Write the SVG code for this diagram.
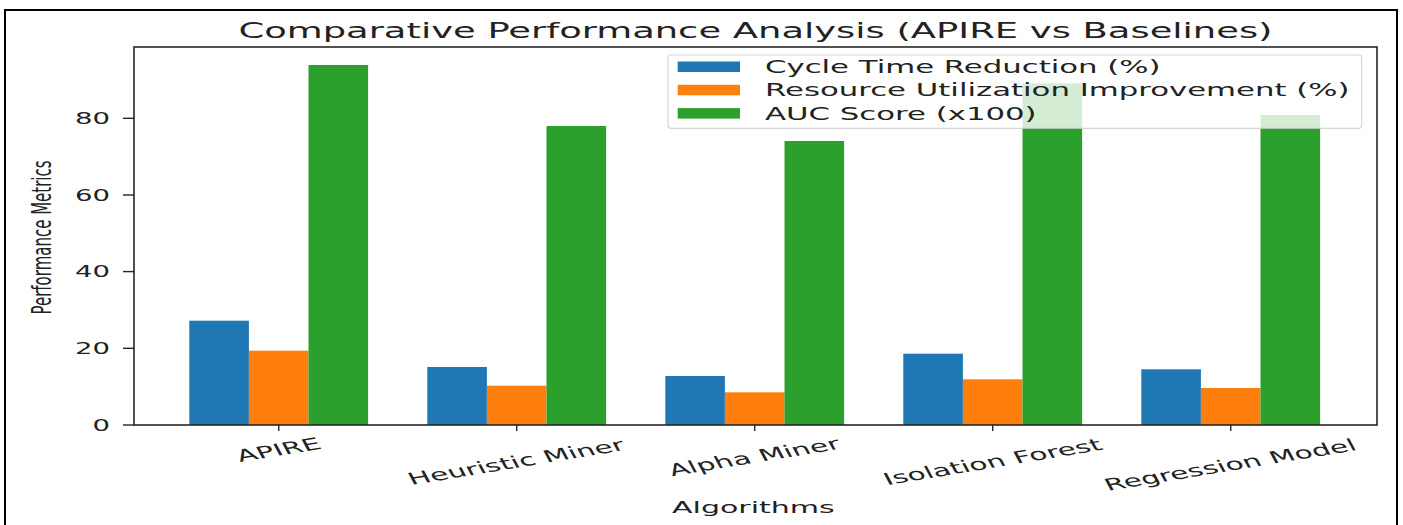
<svg xmlns="http://www.w3.org/2000/svg" width="1403" height="525" viewBox="0 0 1403 525">
  <style>
    text { font-family: "DejaVu Sans", "Liberation Sans", sans-serif; fill: #222; }
    .title { font-size: 20.5px; text-anchor: middle; }
    .ytick { font-size: 15.3px; text-anchor: end; }
    .xtick { font-size: 16.5px; text-anchor: middle; }
    .axlabel { font-size: 16.7px; text-anchor: middle; }
    .ylabel { font-size: 15px; text-anchor: middle; }
    .leg { font-size: 17.1px; }
    .spine { fill: none; stroke: #262626; stroke-width: 1.6; }
    .tick { stroke: #262626; stroke-width: 1.4; }
    .c1 { fill: #1f77b4; }
    .c2 { fill: #ff7f0e; }
    .c3 { fill: #2ca02c; }
  </style>

  <!-- page frame -->
  <rect x="5" y="10" width="1392" height="530" fill="#fff" stroke="#000" stroke-width="2"/>

  <!-- bars: cycle time, resource utilisation, AUC for each algorithm -->
  <g id="bars">
    <g id="apire">
      <rect class="c1" x="189.3" y="320.7" width="59.6" height="104.3"/>
      <rect class="c2" x="248.9" y="350.7" width="59.6" height="74.3"/>
      <rect class="c3" x="308.5" y="65" width="59.6" height="360"/>
    </g>
    <g id="heuristic-miner">
      <rect class="c1" x="427.3" y="367" width="59.6" height="58"/>
      <rect class="c2" x="486.9" y="385.7" width="59.6" height="39.3"/>
      <rect class="c3" x="546.5" y="126" width="59.6" height="299"/>
    </g>
    <g id="alpha-miner">
      <rect class="c1" x="665.3" y="376" width="59.6" height="49"/>
      <rect class="c2" x="724.9" y="392.3" width="59.6" height="32.7"/>
      <rect class="c3" x="784.5" y="141" width="59.6" height="284"/>
    </g>
    <g id="isolation-forest">
      <rect class="c1" x="903.3" y="353.7" width="59.6" height="71.3"/>
      <rect class="c2" x="962.9" y="379.3" width="59.6" height="45.7"/>
      <rect class="c3" x="1022.5" y="83.3" width="59.6" height="341.7"/>
    </g>
    <g id="regression-model">
      <rect class="c1" x="1141.3" y="369.3" width="59.6" height="55.7"/>
      <rect class="c2" x="1200.9" y="388" width="59.6" height="37"/>
      <rect class="c3" x="1260.5" y="115" width="59.6" height="310"/>
    </g>
  </g>

  <!-- axes -->
  <g id="axes">
    <rect class="spine" x="134" y="47" width="1243" height="378"/>
    <line class="tick" x1="123" y1="425" x2="134" y2="425"/>
    <line class="tick" x1="123" y1="348.3" x2="134" y2="348.3"/>
    <line class="tick" x1="123" y1="271.6" x2="134" y2="271.6"/>
    <line class="tick" x1="123" y1="195" x2="134" y2="195"/>
    <line class="tick" x1="123" y1="118.3" x2="134" y2="118.3"/>
    <line class="tick" x1="278.7" y1="425" x2="278.7" y2="431"/>
    <line class="tick" x1="516.7" y1="425" x2="516.7" y2="431"/>
    <line class="tick" x1="754.7" y1="425" x2="754.7" y2="431"/>
    <line class="tick" x1="992.7" y1="425" x2="992.7" y2="431"/>
    <line class="tick" x1="1230.7" y1="425" x2="1230.7" y2="431"/>

    <text class="ytick" transform="translate(110,430.6) scale(1.8,1)">0</text>
    <text class="ytick" transform="translate(110,353.9) scale(1.8,1)">20</text>
    <text class="ytick" transform="translate(110,277.2) scale(1.8,1)">40</text>
    <text class="ytick" transform="translate(110,200.6) scale(1.8,1)">60</text>
    <text class="ytick" transform="translate(110,123.9) scale(1.8,1)">80</text>

    <text class="xtick" transform="translate(278.7,450) scale(1.8,1) rotate(-16.5)" y="5.5">APIRE</text>
    <text class="xtick" transform="translate(516.7,463) scale(1.8,1) rotate(-16.5)" y="4.5">Heuristic Miner</text>
    <text class="xtick" transform="translate(754.7,458) scale(1.8,1) rotate(-16.5)" y="4.5">Alpha Miner</text>
    <text class="xtick" transform="translate(992.7,462) scale(1.8,1) rotate(-16.5)" y="5.5">Isolation Forest</text>
    <text class="xtick" transform="translate(1230.7,466) scale(1.8,1) rotate(-16.5)" y="4.5">Regression Model</text>

    <text class="axlabel" transform="translate(753.4,513) scale(1.8,1)">Algorithms</text>
    <text class="ylabel" transform="translate(51,237.5) scale(1.8,1) rotate(-90)">Performance Metrics</text>
    <text class="title" transform="translate(755.5,38) scale(1.8,1)">Comparative Performance Analysis (APIRE vs Baselines)</text>
  </g>

  <!-- legend -->
  <g id="legend">
    <rect x="668" y="55" width="693.7" height="73.3" rx="3" fill="#fff" fill-opacity="0.8" stroke="#ccc" stroke-opacity="0.8" stroke-width="1.2"/>
    <rect class="c1" x="677.7" y="61.5" width="62.3" height="10.5"/>
    <rect class="c2" x="677.7" y="84.8" width="62.3" height="10.5"/>
    <rect class="c3" x="677.7" y="108.1" width="62.3" height="10.5"/>
    <text class="leg" transform="translate(765,72.9) scale(1.8,1)">Cycle Time Reduction (%)</text>
    <text class="leg" transform="translate(765,96.2) scale(1.8,1)">Resource Utilization Improvement (%)</text>
    <text class="leg" transform="translate(765,119.5) scale(1.8,1)">AUC Score (x100)</text>
  </g>
</svg>
